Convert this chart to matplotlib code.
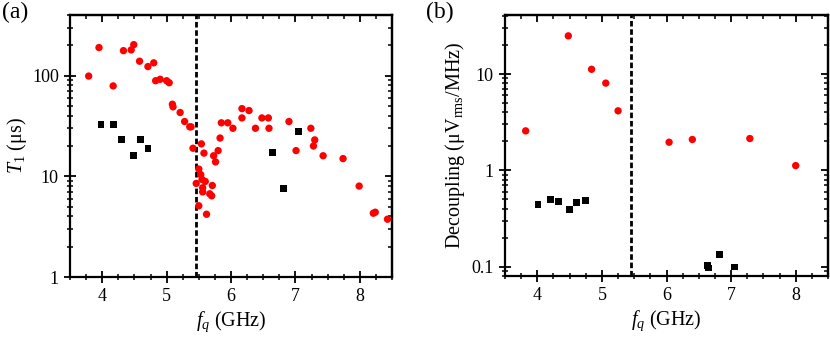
import matplotlib.pyplot as plt
from matplotlib.ticker import MultipleLocator, LogLocator, NullFormatter, FixedLocator

plt.rcParams['font.family'] = ['Liberation Serif', 'DejaVu Serif']
plt.rcParams['mathtext.fontset'] = 'custom'
plt.rcParams['mathtext.rm'] = 'Liberation Serif'
plt.rcParams['mathtext.it'] = 'Liberation Serif:italic'

# panel (a): T1 vs qubit frequency
t1_red_f = [3.79, 3.95, 4.17, 4.33, 4.45, 4.49, 4.58, 4.71, 4.80, 4.83, 4.90, 5.00,
            5.04, 5.09, 5.10, 5.21, 5.28, 5.36, 5.38, 5.41, 5.46, 5.50, 5.50, 5.53,
            5.54, 5.55, 5.56, 5.56, 5.58, 5.60, 5.62, 5.67, 5.70, 5.71, 5.73, 5.76,
            5.80, 5.83, 5.85, 5.95, 6.03, 6.17, 6.17, 6.28, 6.38, 6.48, 6.58, 6.59,
            6.90, 7.01, 7.24, 7.28, 7.30, 7.43, 7.74, 7.99, 8.21, 8.24, 8.43]
t1_red = [99, 190, 79, 177, 180, 203, 139, 123, 134, 89, 92, 89,
          85, 52, 49, 43, 35, 31, 31, 19, 8.5, 11.8, 5.1, 10.4,
          21, 9.3, 7.7, 7.0, 17, 8.9, 4.2, 6.7, 6.4, 8.1, 16, 13.9,
          18, 24, 34, 34, 30, 47, 38, 45, 30, 38, 38, 30,
          35, 18, 30, 20, 23, 16, 15, 8.0, 4.3, 4.4, 3.75]
t1_black_f = [3.98, 4.18, 4.30, 4.48, 4.59, 4.71, 6.64, 6.81, 7.05]
t1_black = [32.5, 32.5, 23, 16, 23, 19, 17.3, 7.5, 28]

# panel (b): decoupling vs qubit frequency
dec_red_f = [3.82, 4.48, 4.84, 5.06, 5.25, 6.04, 6.40, 7.29, 8.00]
dec_red = [2.57, 24.9, 11.2, 8.05, 4.15, 1.96, 2.09, 2.14, 1.12]
dec_black_f = [4.01, 4.20, 4.33, 4.50, 4.61, 4.74, 6.64, 6.65, 6.82, 7.05]
dec_black = [0.44, 0.50, 0.476, 0.39, 0.46, 0.49, 0.103, 0.097, 0.135, 0.099]

f_cut = 5.45

fig = plt.figure(figsize=(8.3, 3.41), dpi=100)
ax1 = fig.add_axes([70 / 830, 64 / 341, 322 / 830, 262 / 341])
ax2 = fig.add_axes([505 / 830, 65 / 341, 323 / 830, 261 / 341])


def style(ax, ylim, yticks, ylabels):
    ax.set_yscale('log')
    ax.set_xlim(3.5, 8.5)
    ax.set_ylim(*ylim)
    ax.xaxis.set_major_locator(MultipleLocator(1))
    ax.xaxis.set_minor_locator(MultipleLocator(0.25))
    ax.yaxis.set_major_locator(FixedLocator(yticks))
    ax.set_yticklabels(ylabels)
    ax.yaxis.set_minor_locator(LogLocator(base=10, subs=range(2, 10)))
    ax.yaxis.set_minor_formatter(NullFormatter())
    ax.tick_params(which='major', direction='inout', length=9, width=1.3, labelsize=13)
    ax.tick_params(which='minor', direction='inout', length=5, width=1.1)
    for s in ax.spines.values():
        s.set_linewidth(1.6)
    # inward ticks on top/right
    top = ax.secondary_xaxis('top')
    top.xaxis.set_major_locator(MultipleLocator(1))
    top.xaxis.set_minor_locator(MultipleLocator(0.25))
    top.tick_params(which='major', direction='in', length=5, width=1.3, labeltop=False)
    top.tick_params(which='minor', direction='in', length=3, width=1.1)
    top.spines['top'].set_linewidth(1.6)
    right = ax.secondary_yaxis('right')
    right.yaxis.set_major_locator(FixedLocator(yticks))
    right.yaxis.set_minor_locator(LogLocator(base=10, subs=range(2, 10)))
    right.tick_params(which='major', direction='in', length=5, width=1.3, labelright=False)
    right.tick_params(which='minor', direction='in', length=3, width=1.1, labelright=False)
    right.spines['right'].set_linewidth(1.6)
    line = ax.axvline(f_cut, color='black', lw=2.0, zorder=1)
    line.set_dashes([2.0, 1.0])
    ax.set_xlabel('$f_q$ (GHz)', fontsize=14.5, labelpad=3)


ax1.scatter(t1_red_f, t1_red, s=28, color='red', edgecolors='none', zorder=3)
ax1.scatter(t1_black_f, t1_black, s=24, marker='s', color='black', edgecolors='none', zorder=3)
style(ax1, (1, 400), [1, 10, 100], ['1', '10', '100'])
ax1.set_ylabel('$T_1$ (μs)', fontsize=14.5, labelpad=2)

ax2.scatter(dec_red_f, dec_red, s=28, color='red', edgecolors='none', zorder=3)
ax2.scatter(dec_black_f, dec_black, s=24, marker='s', color='black', edgecolors='none', zorder=3)
style(ax2, (0.08, 41), [0.1, 1, 10], ['0.1', '1', '10'])
ax2.set_ylabel('Decoupling (μV$_{\\mathrm{rms}}$/MHz)', fontsize=14.5, labelpad=3)

fig.text(0.002, 0.995, '(a)', fontsize=17, va='top', ha='left')
fig.text(0.513, 0.995, '(b)', fontsize=17, va='top', ha='left')

plt.savefig('out.png', dpi=100)
